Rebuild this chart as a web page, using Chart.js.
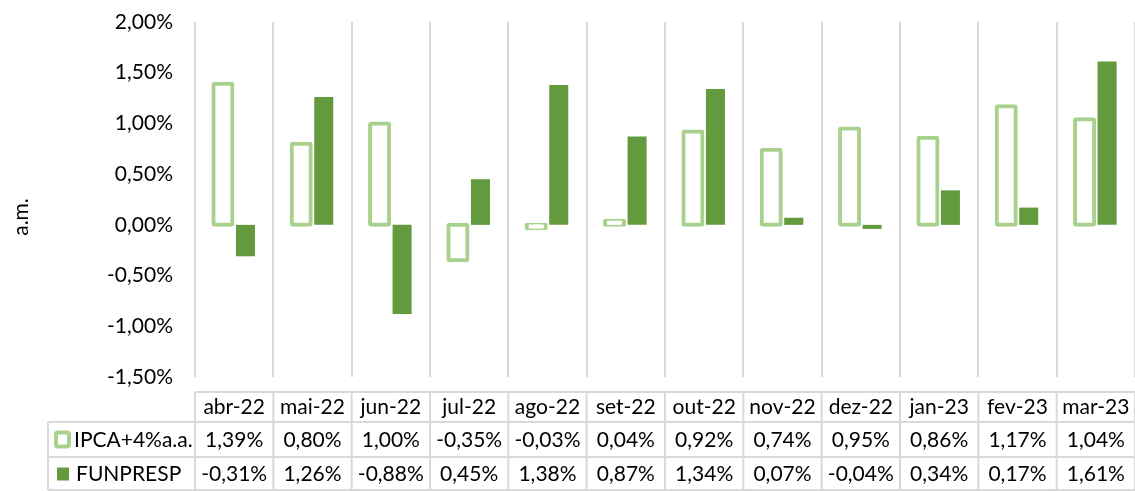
<!DOCTYPE html>
<html>
<head>
<meta charset="utf-8">
<script src="https://cdn.jsdelivr.net/npm/chart.js@4"></script>
<style>
  html, body { margin: 0; padding: 0; background: #fff; }
  #wrap { width: 1135px; height: 491px; }
</style>
</head>
<body>
<div id="wrap"><canvas id="grafico"></canvas></div>
<script>
// dados do gráfico
const meses = ['abr-22', 'mai-22', 'jun-22', 'jul-22', 'ago-22', 'set-22', 'out-22', 'nov-22', 'dez-22', 'jan-23', 'fev-23', 'mar-23'];
const ipca = [1.39, 0.80, 1.00, -0.35, -0.03, 0.04, 0.92, 0.74, 0.95, 0.86, 1.17, 1.04];
const funpresp = [-0.31, 1.26, -0.88, 0.45, 1.38, 0.87, 1.34, 0.07, -0.04, 0.34, 0.17, 1.61];
const nomesSeries = ['IPCA+4%a.a.', 'FUNPRESP'];
const eixoY = { min: -1.5, max: 2.0, passo: 0.5 };

const FONTE = 'Lato, "Open Sans", sans-serif';
const VERDE_CLARO = '#A9D18E';
const VERDE = '#629A3D';
const LINHA = '#D9D9D9';

function pct(v) {
    return v.toFixed(2).replace('.', ',') + '%';
}

// desenha a tabela de dados abaixo do gráfico e o título do eixo
const tabelaPlugin = {
    id: 'tabela',
    afterDraw(chart) {
        const ctx = chart.ctx;
        const area = chart.chartArea;
        const x = chart.scales.x;
        const w = (area.right - area.left) / meses.length;
        const topo = area.bottom + 15;
        const linhas = [topo, topo + 30, topo + 65, topo + 98];
        const esq = 48;

        ctx.save();
        ctx.strokeStyle = LINHA;
        ctx.lineWidth = 2;
        ctx.beginPath();
        ctx.moveTo(area.left, linhas[0]); ctx.lineTo(area.right, linhas[0]);
        for (let i = 1; i < linhas.length; i++) {
            ctx.moveTo(esq, linhas[i]); ctx.lineTo(area.right, linhas[i]);
        }
        ctx.moveTo(esq, linhas[1]); ctx.lineTo(esq, linhas[3]);
        for (let i = 0; i <= meses.length; i++) {
            const px = area.left + i * w;
            ctx.moveTo(px, linhas[0]); ctx.lineTo(px, linhas[3]);
        }
        ctx.stroke();

        ctx.fillStyle = '#000';
        ctx.font = '21px ' + FONTE;
        ctx.textAlign = 'center';
        ctx.textBaseline = 'middle';
        meses.forEach((m, i) => {
            const cx = x.getPixelForValue(i);
            ctx.fillText(m, cx, (linhas[0] + linhas[1]) / 2);
            ctx.fillText(pct(ipca[i]), cx, (linhas[1] + linhas[2]) / 2 + 1);
            ctx.fillText(pct(funpresp[i]), cx, (linhas[2] + linhas[3]) / 2 + 1);
        });

        // legenda dentro da tabela
        const y1 = (linhas[1] + linhas[2]) / 2;
        const y2 = (linhas[2] + linhas[3]) / 2;
        ctx.strokeStyle = VERDE_CLARO;
        ctx.lineWidth = 4;
        ctx.fillStyle = '#fff';
        ctx.beginPath();
        ctx.roundRect(56, y1 - 7, 13, 14, 2);
        ctx.fill(); ctx.stroke();
        ctx.fillStyle = VERDE;
        ctx.fillRect(57, y2 - 6, 12, 13);

        ctx.fillStyle = '#000';
        ctx.textAlign = 'left';
        ctx.fillText(nomesSeries[0], 74, y1 + 1);
        ctx.fillText(nomesSeries[1], 76, y2 + 1);

        // título do eixo y
        ctx.translate(21, 217);
        ctx.rotate(-Math.PI / 2);
        ctx.textAlign = 'center';
        ctx.fillText('a.m.', 0, 0);
        ctx.restore();
    }
};

new Chart(document.getElementById('grafico'), {
    type: 'bar',
    data: {
        labels: meses,
        datasets: [{
            label: nomesSeries[0],
            data: ipca,
            backgroundColor: '#fff',
            borderColor: VERDE_CLARO,
            borderWidth: 4,
            borderSkipped: false,
            borderRadius: 3,
            inflateAmount: 2
        }, {
            label: nomesSeries[1],
            data: funpresp,
            backgroundColor: VERDE,
            borderWidth: 0,
            inflateAmount: 0
        }]
    },
    options: {
        responsive: true,
        maintainAspectRatio: false,
        animation: false,
        datasets: {
            bar: { categoryPercentage: 0.575, barPercentage: 0.845 }
        },
        layout: { padding: { top: 22, right: 0, bottom: 114, left: 0 } },
        plugins: {
            legend: { display: false },
            tooltip: { enabled: false }
        },
        scales: {
            x: {
                ticks: { display: false },
                grid: { offset: true, color: LINHA, lineWidth: 2, drawTicks: false },
                border: { display: false }
            },
            y: {
                min: eixoY.min,
                max: eixoY.max,
                afterFit: s => {
                    s.width = 195;
                    s.paddingTop = 0;
                    s.paddingBottom = 0;
                },
                ticks: {
                    stepSize: eixoY.passo,
                    padding: 22,
                    color: '#000',
                    font: { family: FONTE, size: 21 },
                    callback: v => pct(v)
                },
                grid: { display: false, drawTicks: false },
                border: { display: false }
            }
        }
    },
    plugins: [tabelaPlugin]
});
</script>
</body>
</html>
